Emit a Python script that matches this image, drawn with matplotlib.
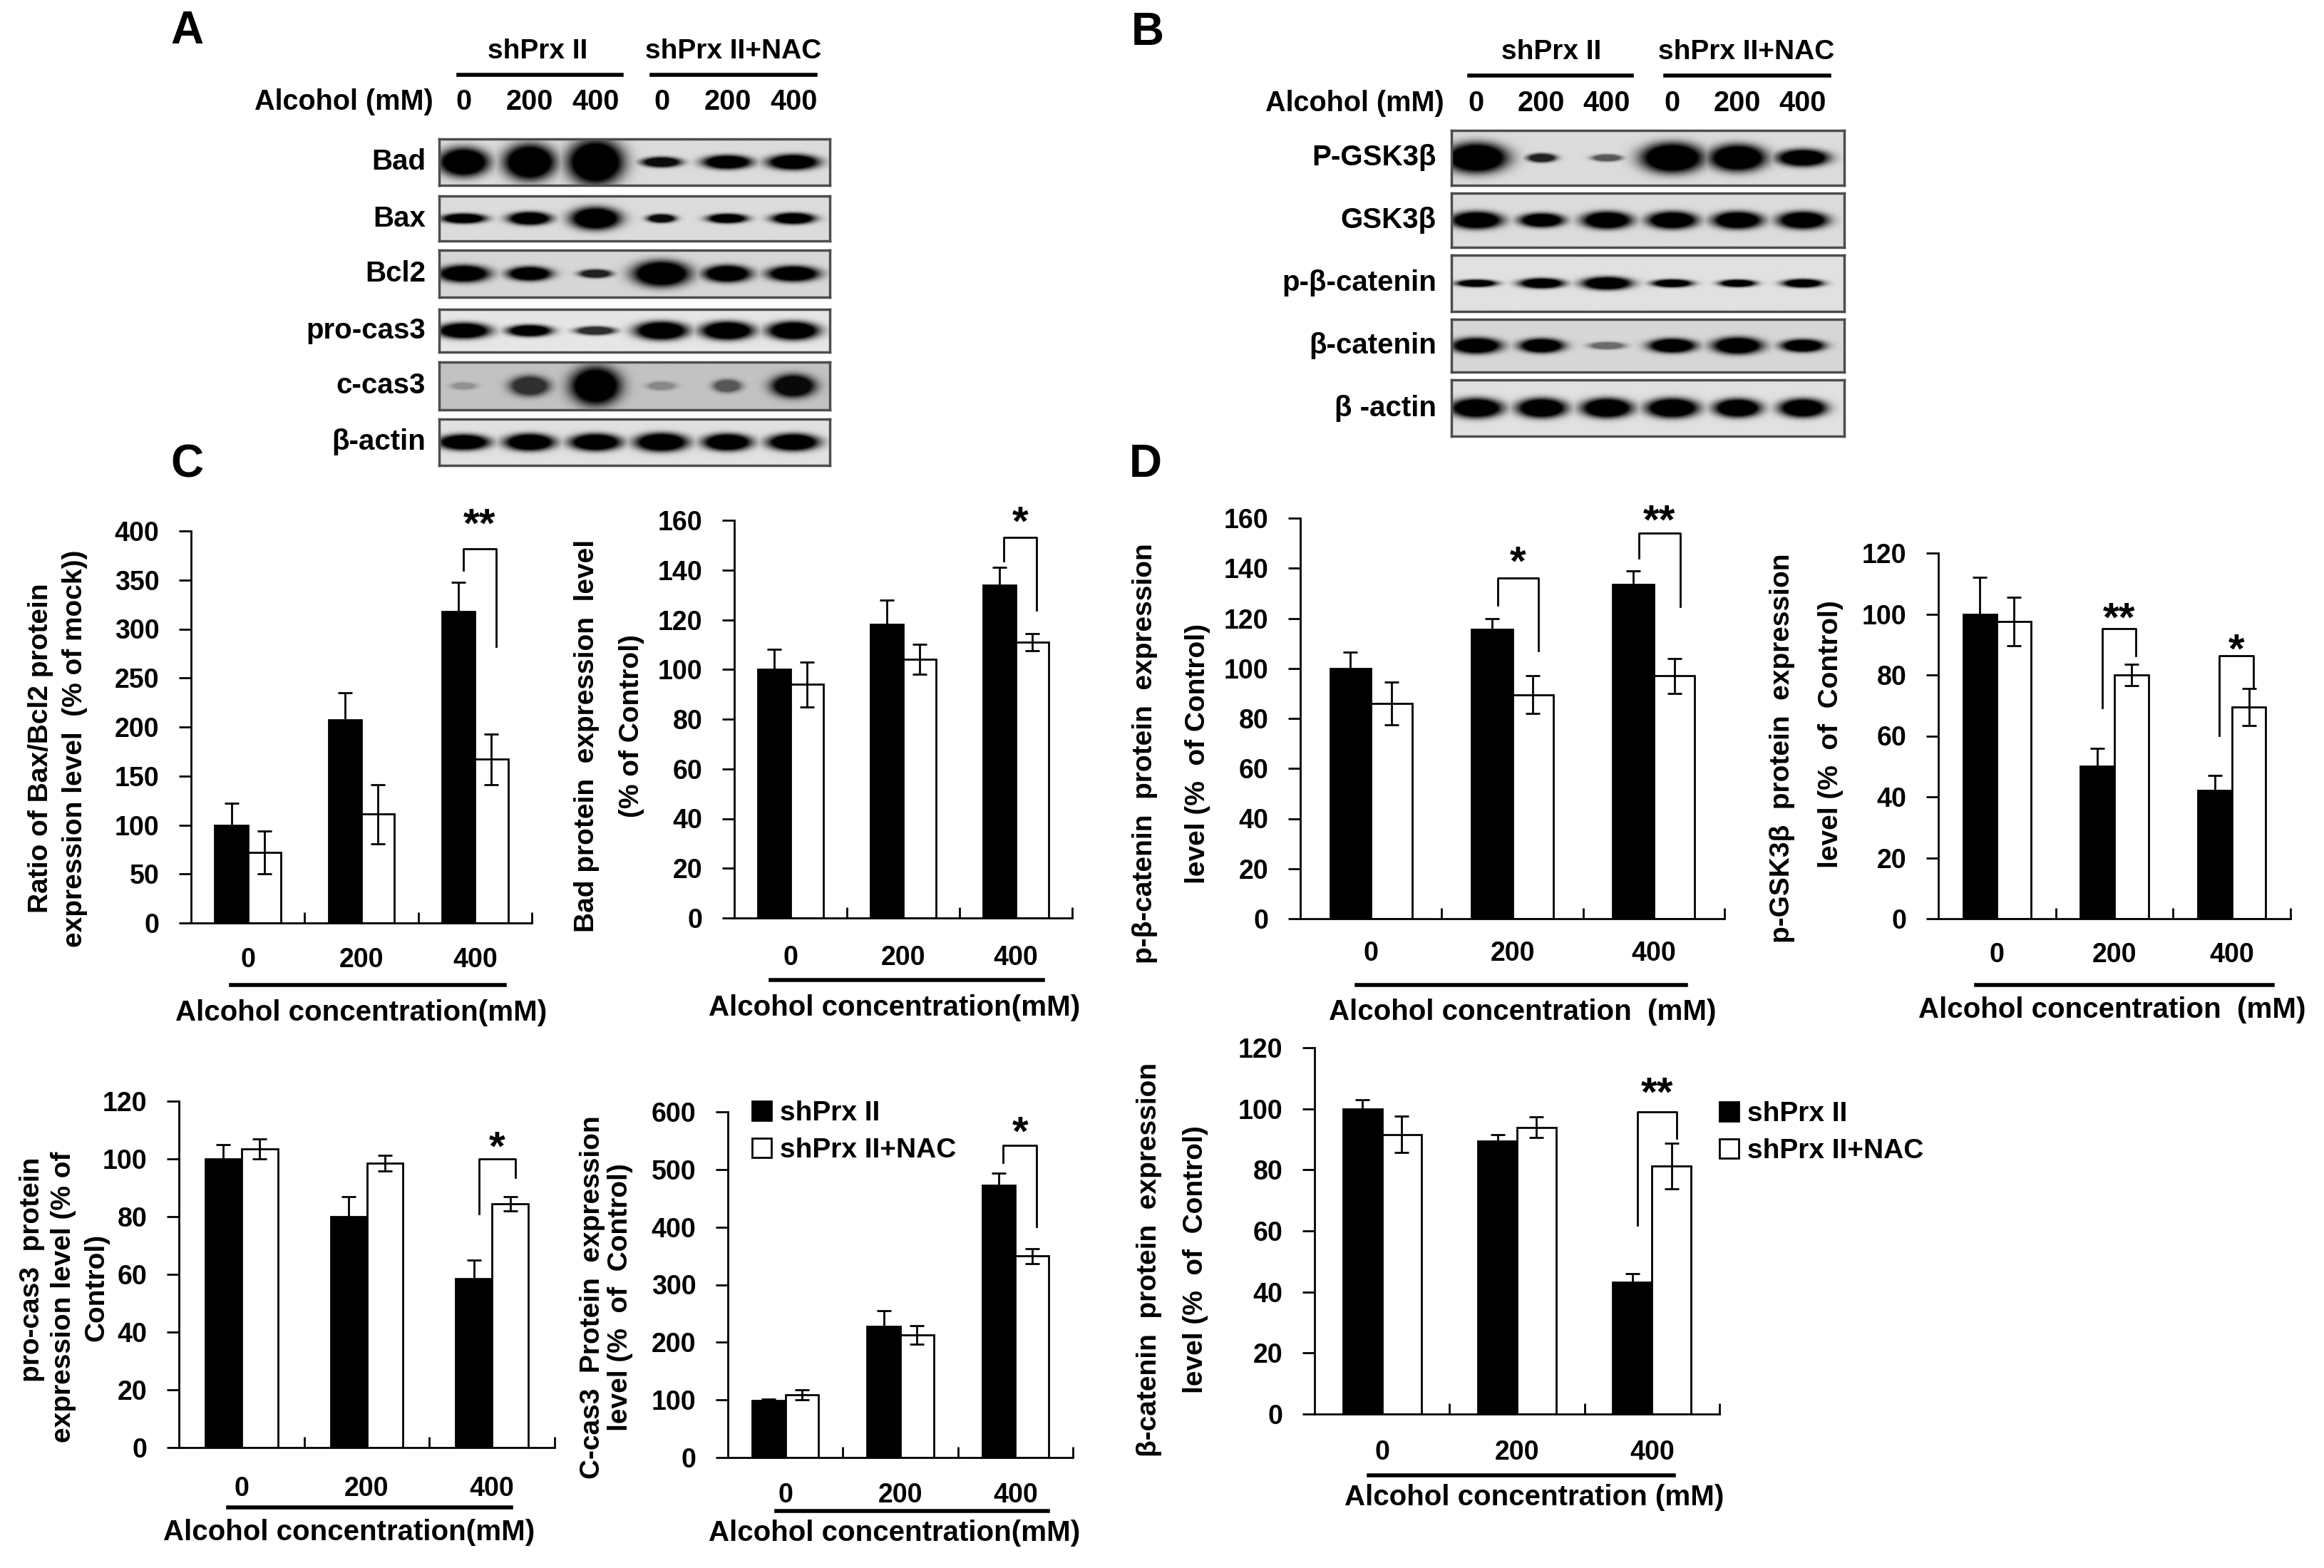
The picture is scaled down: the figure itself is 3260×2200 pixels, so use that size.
import numpy as np
import matplotlib
matplotlib.use("Agg")
import matplotlib.pyplot as plt

plt.rcParams['font.family'] = ['Liberation Sans', 'DejaVu Sans']
plt.rcParams['font.weight'] = 'bold'
plt.rcParams['axes.linewidth'] = 2

W, H, DPI = 3260, 2200, 100

# ======================= DATA =======================
groups = ['0', '200', '400']
series_names = ['shPrx II', 'shPrx II+NAC']
lane_labels = ['0', '200', '400', '0', '200', '400']

# ---- Western blot A (band darkness, band width [lane units], band height [strip fraction])
blotA_rows = ['Bad', 'Bax', 'Bcl2', 'pro-cas3', 'c-cas3', 'β-actin']
blotA_dark = [[1, 1, 1, 0.95, 1, 1],
              [1, 1, 1, 0.95, 1, 1],
              [1, 1, 0.85, 1, 1, 1],
              [1, 1, 0.8, 1, 1, 1],
              [0.25, 0.75, 1, 0.3, 0.55, 0.95],
              [1, 1, 1, 1, 1, 1]]
blotA_width = [[0.76, 0.78, 0.85, 0.60, 0.74, 0.78],
               [0.67, 0.65, 0.76, 0.43, 0.60, 0.65],
               [0.78, 0.67, 0.49, 0.87, 0.72, 0.78],
               [0.80, 0.67, 0.60, 0.80, 0.80, 0.78],
               [0.38, 0.60, 0.76, 0.43, 0.43, 0.67],
               [0.78, 0.76, 0.78, 0.80, 0.74, 0.78]]
blotA_height = [[0.62, 0.78, 0.98, 0.22, 0.30, 0.33],
                [0.22, 0.29, 0.50, 0.19, 0.21, 0.25],
                [0.36, 0.30, 0.18, 0.55, 0.36, 0.33],
                [0.37, 0.27, 0.20, 0.43, 0.43, 0.43],
                [0.15, 0.42, 0.80, 0.18, 0.27, 0.48],
                [0.34, 0.37, 0.37, 0.40, 0.37, 0.37]]
blotA_bg = [0.86, 0.86, 0.84, 0.90, 0.76, 0.88]

# ---- Western blot B
blotB_rows = ['P-GSK3β', 'GSK3β', 'p-β-catenin', 'β-catenin', 'β -actin']
blotB_dark = [[1, 0.85, 0.6, 1, 1, 1],
              [1, 1, 1, 1, 1, 1],
              [1, 1, 1, 1, 1, 1],
              [1, 1, 0.5, 1, 1, 1],
              [1, 1, 1, 1, 1, 1]]
blotB_width = [[0.96, 0.44, 0.46, 0.96, 0.87, 0.79],
               [0.79, 0.68, 0.76, 0.76, 0.76, 0.76],
               [0.61, 0.68, 0.76, 0.61, 0.55, 0.61],
               [0.76, 0.68, 0.55, 0.72, 0.76, 0.66],
               [0.80, 0.76, 0.78, 0.80, 0.72, 0.72]]
blotB_height = [[0.55, 0.16, 0.13, 0.55, 0.49, 0.31],
                [0.32, 0.26, 0.32, 0.32, 0.32, 0.32],
                [0.13, 0.18, 0.23, 0.14, 0.13, 0.15],
                [0.30, 0.27, 0.14, 0.27, 0.32, 0.24],
                [0.35, 0.35, 0.35, 0.35, 0.33, 0.33]]
blotB_bg = [0.86, 0.86, 0.88, 0.84, 0.88]

# ---- Bar charts: means and error bars (black = shPrx II, white = shPrx II+NAC)
# brackets: (group, left-leg end, top, right-leg end, stars, star centre)
baxbcl2_black = [100, 207, 318]
baxbcl2_black_err = [22, 28, 30]
baxbcl2_white = [72, 111, 167]
baxbcl2_white_err = [22, 30, 26]
baxbcl2_brackets = [(2, 360, 382, 282, '**', 411)]

bad_black = [100, 118, 134]
bad_black_err = [8, 10, 7]
bad_white = [94, 104, 111]
bad_white_err = [9, 6, 3.5]
bad_brackets = [(2, 143.6, 153, 124, '*', 161)]

procas3_black = [100, 80, 58.5]
procas3_black_err = [5, 7, 6.5]
procas3_white = [103.5, 98.5, 84.5]
procas3_white_err = [3.5, 2.8, 2.5]
procas3_brackets = [(2, 80.9, 99.9, 93.6, '*', 105.5)]

ccas3_black = [99, 228, 473]
ccas3_black_err = [3, 27, 20]
ccas3_white = [109, 213, 350]
ccas3_white_err = [9, 16, 13]
ccas3_brackets = [(2, 512, 542, 401, '*', 571)]

pbcat_black = [100, 115.5, 133.5]
pbcat_black_err = [6.5, 4.5, 5.5]
pbcat_white = [86, 89.5, 97]
pbcat_white_err = [8.5, 7.5, 7]
pbcat_brackets = [(1, 125.4, 136, 107, '*', 144), (2, 144, 154, 124.7, '**', 160.7)]

pgsk_black = [100, 50, 42]
pgsk_black_err = [12, 6, 5]
pgsk_white = [97.5, 80, 69.5]
pgsk_white_err = [8, 3.5, 6]
pgsk_brackets = [(1, 69.2, 95.3, 86.2, '**', 100), (2, 60.1, 86.2, 76, '*', 89.6)]

bcat_black = [100, 89.3, 43.1]
bcat_black_err = [3, 2.3, 2.8]
bcat_white = [91.6, 93.9, 81.2]
bcat_white_err = [6, 3.4, 7.5]
bcat_brackets = [(2, 61.9, 99.1, 90.4, '**', 106.5)]

# ======================= FIGURE =======================
fig = plt.figure(figsize=(W / DPI, H / DPI), dpi=DPI)


def px_axes(l, t, r, b):
    return fig.add_axes([l / W, 1 - b / H, (r - l) / W, (b - t) / H])


def ftext(x, y, s, **kw):
    fig.text(x / W, 1 - y / H, s, **kw)


def draw_strip(box, dark, widths, heights, xlim, bg):
    ax = px_axes(*box)
    xs = np.linspace(xlim[0], xlim[1], 700)
    ys = np.linspace(0, 1, 140)
    X, Y = np.meshgrid(xs, ys)
    dk = np.zeros_like(X)
    for i, (d, w, h) in enumerate(zip(dark, widths, heights)):
        r2 = ((X - i) / (w / 2)) ** 2 + ((Y - 0.5) / (h / 2)) ** 2
        dk = np.maximum(dk, d * np.clip(1.6 * np.exp(-r2 ** 1.5), 0, 1))
    img = bg * (1 - dk)
    ax.imshow(img, cmap='gray', vmin=0, vmax=1, origin='lower', aspect='auto',
              extent=(xlim[0], xlim[1], 0, 1), interpolation='bilinear')
    ax.set_xlim(xlim)
    ax.set_ylim(0, 1)
    ax.set_xticks([])
    ax.set_yticks([])
    for s in ax.spines.values():
        s.set_color('#4d4d4d')
        s.set_linewidth(2.5)
    return ax


def blot_panel(rows, dark, widths, heights, bgs, box_x, xlim, strips, label_right,
               grp_centers, grp_lines, grp_y, line_y, alc_right, lane_y):
    bl, br = box_x
    for k, name in enumerate(rows):
        t, b = strips[k]
        draw_strip((bl, t, br, b), dark[k], widths[k], heights[k], xlim, bgs[k])
        ftext(label_right, (t + b) / 2, name, ha='right', va='center', fontsize=29)
    for c, s in zip(grp_centers, series_names):
        ftext(c, grp_y, s, ha='center', va='center', fontsize=28)
    for (x0, x1) in grp_lines:
        fig.add_artist(plt.Line2D([x0 / W, x1 / W], [1 - line_y / H] * 2, color='black', lw=4))
    ftext(alc_right, lane_y, 'Alcohol (mM)', ha='right', va='center', fontsize=28.5)
    for i, lab in enumerate(lane_labels):
        px = bl + (i - xlim[0]) / (xlim[1] - xlim[0]) * (br - bl)
        ftext(px, lane_y, lab, ha='center', va='center', fontsize=28.5)


blot_panel(blotA_rows, blotA_dark, blotA_width, blotA_height, blotA_bg,
           (616, 1164), (-0.37, 5.55),
           [(195, 260), (275, 338), (351, 417), (434, 494), (508, 575), (588, 653)],
           597, (754, 1029), [(643, 872), (914, 1144)], 72, 105, 608, 143)

blot_panel(blotB_rows, blotB_dark, blotB_width, blotB_height, blotB_bg,
           (2036, 2587), (-0.38, 5.64),
           [(183, 260), (271, 347), (358, 437), (448, 522), (533, 612)],
           2015, (2176, 2450), [(2061, 2289), (2336, 2566)], 73, 106, 2026, 145)

for letter, (lx, ly) in {'A': (262, 44), 'B': (1610, 46), 'C': (262, 652), 'D': (1607, 652)}.items():
    ftext(lx, ly, letter, ha='center', va='center', fontsize=46)


def bar_panel(box, ymax, ystep, black, berr, white, werr, brackets,
              ylines, ylx, yly, cat_dy, line_dy, line_x, xlab_dy, xlab_x, xlabel,
              legend_at=None):
    l, t, r, b = box
    hpx = b - t
    ax = px_axes(*box)
    x = np.arange(len(groups)) + 0.5
    bw = 0.29
    hb = ax.bar(x - bw / 2, black, bw, color='black', edgecolor='black', linewidth=2, zorder=2)
    hw = ax.bar(x + bw / 2, white, bw, color='white', edgecolor='black', linewidth=2, zorder=2)
    ax.errorbar(x - bw / 2, black, yerr=berr, fmt='none', ecolor='black', elinewidth=2,
                capsize=7, capthick=2, zorder=3)
    ax.errorbar(x + bw / 2, white, yerr=werr, fmt='none', ecolor='black', elinewidth=2,
                capsize=7, capthick=2, zorder=3)
    ax.set_xlim(0, 3)
    ax.set_ylim(0, ymax)
    ax.set_yticks(np.arange(0, ymax + 1, ystep))
    ax.set_xticks([1, 2, 3])
    ax.set_xticklabels([])
    ax.tick_params(axis='y', direction='out', length=12, width=2, labelsize=27, pad=20)
    ax.tick_params(axis='x', direction='in', length=11, width=2)
    for s in ('top', 'right'):
        ax.spines[s].set_visible(False)
    ax.patch.set_alpha(0)
    tr = ax.get_xaxis_transform()
    for g, lab in enumerate(groups):
        ax.text(x[g], -cat_dy / hpx, lab, transform=tr, ha='center', va='center',
                fontsize=27, clip_on=False)
    ax.plot(line_x, [-line_dy / hpx] * 2, transform=tr, color='black', lw=4, clip_on=False)
    ax.text(xlab_x, -xlab_dy / hpx, xlabel, transform=tr, ha='center', va='center',
            fontsize=29, clip_on=False)
    for (g, lend, top, rend, stars, sy) in brackets:
        xl = x[g] - bw / 2 + 0.04
        xr = x[g] + bw / 2 + 0.04
        ax.plot([xl, xl, xr, xr], [lend, top, top, rend], color='black', lw=2, clip_on=False)
        ax.annotate(stars, ((xl + xr) / 2, sy), xytext=(0, -17), textcoords='offset points',
                    ha='center', va='baseline', fontsize=42, annotation_clip=False)
    if np.ndim(yly) == 0:
        yly = [yly] * len(ylines)
    for s, xx, yy in zip(ylines, ylx, yly):
        ftext(xx, yy, s, rotation=90, ha='center', va='center', fontsize=28)
    if legend_at is not None:
        ax.legend([hb, hw], series_names, loc='upper left',
                  bbox_to_anchor=(legend_at[0] / W, 1 - legend_at[1] / H),
                  bbox_transform=fig.transFigure, frameon=False, fontsize=28,
                  handlelength=0.7, handleheight=0.7, handletextpad=0.3,
                  labelspacing=0.42, borderpad=0, borderaxespad=0)
    return ax


bar_panel((268, 745, 746, 1295), 400, 50, baxbcl2_black, baxbcl2_black_err,
          baxbcl2_white, baxbcl2_white_err, baxbcl2_brackets,
          ['Ratio of Bax/Bcl2 protein', 'expression level  (% of mock))'], (57, 105), 1050,
          52, 87, (0.35, 2.76), 126, 1.5, 'Alcohol concentration(mM)')

bar_panel((1030, 730, 1504, 1288), 160, 20, bad_black, bad_black_err,
          bad_white, bad_white_err, bad_brackets,
          ['Bad protein  expression  level', '(% of Control)'], (823, 886), (1032, 1019),
          56, 87, (0.32, 2.74), 126, 1.42, 'Alcohol concentration(mM)')

bar_panel((1824, 727, 2419, 1289), 160, 20, pbcat_black, pbcat_black_err,
          pbcat_white, pbcat_white_err, pbcat_brackets,
          ['p-β-catenin  protein  expression', 'level (%  of Control)'], (1606, 1680), 1057,
          49, 93, (0.40, 2.73), 131, 1.57, 'Alcohol concentration  (mM)')

bar_panel((2719, 776, 3213, 1289), 120, 20, pgsk_black, pgsk_black_err,
          pgsk_white, pgsk_white_err, pgsk_brackets,
          ['p-GSK3β  protein  expression', 'level (%  of  Control)'], (2500, 2568), (1050, 1030),
          51, 93, (0.32, 2.85), 128, 1.48, 'Alcohol concentration  (mM)')

bar_panel((251, 1545, 778, 2031), 120, 20, procas3_black, procas3_black_err,
          procas3_white, procas3_white_err, procas3_brackets,
          ['pro-cas3  protein', 'expression level (% of', 'Control)'], (45, 89, 135),
          (1781, 1820, 1806),
          58, 84, (0.39, 2.65), 119, 1.36, 'Alcohol concentration(mM)')

bar_panel((1021, 1560, 1505, 2045), 600, 100, ccas3_black, ccas3_black_err,
          ccas3_white, ccas3_white_err, ccas3_brackets,
          ['C-cas3  Protein  expression', 'level (%  of  Control)'], (831, 870), 1820,
          53, 75, (0.42, 2.78), 106, 1.45, 'Alcohol concentration(mM)',
          legend_at=(1055, 1544))

bar_panel((1844, 1470, 2412, 1984), 120, 20, bcat_black, bcat_black_err,
          bcat_white, bcat_white_err, bcat_brackets,
          ['β-catenin  protein  expression', 'level (%  of  Control)'], (1612, 1677), 1767,
          54, 86, (0.40, 2.66), 117, 1.63, 'Alcohol concentration (mM)',
          legend_at=(2412, 1545))

fig.savefig('out.png', dpi=DPI)
